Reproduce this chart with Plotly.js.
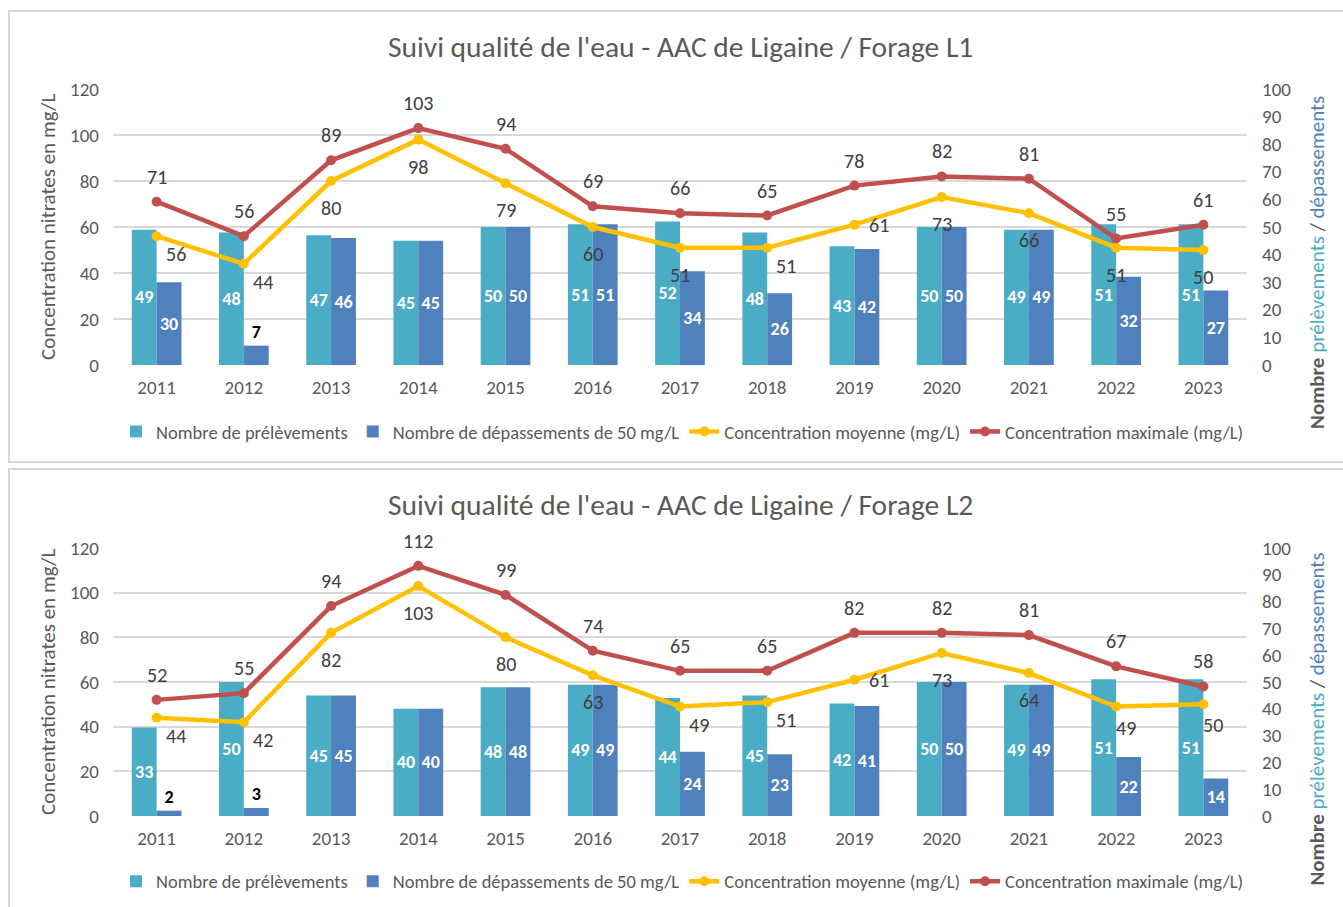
<!DOCTYPE html>
<html>
<head>
<meta charset="utf-8">
<script src="https://cdn.plot.ly/plotly-3.0.1.min.js"></script>
<style>
  html, body { margin: 0; padding: 0; background: #fff; overflow: hidden; width: 1343px; height: 907px; }
  .box { position: absolute; left: 8px; width: 1345px; border: 2px solid #d9d9d9; box-sizing: border-box; background: #fff; }
  #c1 { top: 10px; height: 453px; }
  #c2 { top: 468px; height: 450px; }
</style>
</head>
<body>
<div id="c1" class="box"></div>
<div id="c2" class="box"></div>
<script>
// ---------- DATA ----------
const years = ["2011","2012","2013","2014","2015","2016","2017","2018","2019","2020","2021","2022","2023"];

const titleL1 = "Suivi qualité de l'eau - AAC de Ligaine / Forage L1";
const prelL1 = [49, 48, 47, 45, 50, 51, 52, 48, 43, 50, 49, 51, 51];
const depL1  = [30, 7, 46, 45, 50, 51, 34, 26, 42, 50, 49, 32, 27];
const moyL1  = [56, 44, 80, 98, 79, 60, 51, 51, 61, 73, 66, 51, 50];
const maxL1  = [71, 56, 89, 103, 94, 69, 66, 65, 78, 82, 81, 55, 61];

const titleL2 = "Suivi qualité de l'eau - AAC de Ligaine / Forage L2";
const prelL2 = [33, 50, 45, 40, 48, 49, 44, 45, 42, 50, 49, 51, 51];
const depL2  = [2, 3, 45, 40, 48, 49, 24, 23, 41, 50, 49, 22, 14];
const moyL2  = [44, 42, 82, 103, 80, 63, 49, 51, 61, 73, 64, 49, 50];
const maxL2  = [52, 55, 94, 112, 99, 74, 65, 65, 82, 82, 81, 67, 58];

const seriesNames = ["Nombre de prélèvements", "Nombre de dépassements de 50 mg/L",
                     "Concentration moyenne (mg/L)", "Concentration maximale (mg/L)"];
const leftTitle = "Concentration nitrates en mg/L";
const rightTitle = '<b>Nombre</b> <span style="color:#4BACC6">prélèvements</span> / <span style="color:#4F81BD">dépassements</span>';

// ---------- LABEL PLACEMENT (style) ----------
const PLACE = { below: [0, -27], belowRight: [19, -18], belowNudge: [10, -21], right: [25, 0], above: [0, 25] };
const meanPlaceL1 = ["belowRight","belowRight","below","below","below","below","below","belowRight","right","below","below","below","below"];
const meanPlaceL2 = ["belowRight","belowRight","below","below","below","below","belowRight","belowRight","right","below","below","belowNudge","belowNudge"];

// ---------- STYLE ----------
const FONT = "Carlito, Calibri, Lato, sans-serif";
const GREY = "#595959";
const C_PREL = "#4BACC6", C_DEP = "#4F81BD", C_MOY = "#FFC000", C_MAX = "#C0504D";

function build(div, title, prel, dep, moy, max, meanPlace, opts) {
  const bar = (name, y, color) => ({
    type: "bar", name: name, x: years, y: y, xaxis: "x", yaxis: "y",
    marker: { color: color },
    text: y.map(String), textposition: "auto", insidetextanchor: "middle",
    constraintext: "none",
    insidetextfont: { family: FONT, size: 18, color: "#ffffff", weight: "bold" },
    outsidetextfont: { family: FONT, size: 18, color: "#000000", weight: "bold" },
    textangle: 0, cliponaxis: false, hoverinfo: "skip"
  });
  const line = (name, y, color) => ({
    type: "scatter", mode: "lines+markers", name: name, x: years, y: y, xaxis: "x", yaxis: "y2",
    line: { color: color, width: 4.5 }, marker: { color: color, size: 10 },
    cliponaxis: false, hoverinfo: "skip"
  });
  const data = [
    bar(seriesNames[0], prel, C_PREL),
    bar(seriesNames[1], dep, C_DEP),
    line(seriesNames[2], moy, C_MOY),
    line(seriesNames[3], max, C_MAX)
  ];
  const lab = (v, i, place) => ({
    text: String(v), xref: "x", yref: "y2", x: i, y: v,
    xshift: PLACE[place][0], yshift: PLACE[place][1],
    xanchor: "center", yanchor: "middle", showarrow: false,
    font: { family: FONT, size: 20, color: "#404040" }
  });
  const annots = [
    { text: title, xref: "paper", yref: "paper", x: 0.5, y: 1, yshift: opts.titleShift,
      xanchor: "center", yanchor: "middle", showarrow: false,
      font: { family: FONT, size: 29.5, color: GREY } },
    { text: leftTitle, xref: "paper", yref: "paper", x: 0, y: 0.5, xshift: -65,
      xanchor: "center", yanchor: "middle", textangle: -90, showarrow: false,
      font: { family: FONT, size: 21, color: GREY } },
    { text: rightTitle, xref: "paper", yref: "paper", x: 1, y: opts.rY, xshift: 70,
      xanchor: "center", yanchor: "middle", textangle: -90, showarrow: false,
      font: { family: FONT, size: 21, color: GREY } }
  ];
  moy.forEach((v, i) => annots.push(lab(v, i, meanPlace[i])));
  max.forEach((v, i) => annots.push(lab(v, i, "above")));

  const layout = {
    width: 1345, height: opts.h,
    margin: { l: 103, r: 108, t: opts.t, b: opts.b },
    paper_bgcolor: "rgba(0,0,0,0)", plot_bgcolor: "rgba(0,0,0,0)",
    font: { family: FONT, size: 18, color: GREY },
    barmode: "group", bargap: 0.43, bargroupgap: 0,
    showlegend: true,
    legend: { orientation: "h", xref: "container", x: 0.5, xanchor: "center",
              yref: "container", y: opts.legY, yanchor: "middle",
              font: { family: FONT, size: 18.5, color: GREY }, traceorder: "normal",
              itemwidth: 30, tracegroupgap: 0 },
    xaxis: { type: "category", range: [-0.5, 12.5], showgrid: false, zeroline: false, showline: false,
             ticks: "", tickfont: { family: FONT, size: 19, color: GREY }, ticklabelstandoff: 9 },
    yaxis: { range: [0, 100], dtick: 10, side: "right", showgrid: false,
             zeroline: false, showline: false, ticks: "", ticklabelstandoff: 14,
             tickfont: { family: FONT, size: 19, color: GREY } },
    yaxis2: { range: [0, 120], dtick: 20, overlaying: "y", side: "left",
              showgrid: true, gridcolor: "#d9d9d9", gridwidth: 2,
              zeroline: false, showline: false, ticks: "", ticklabelstandoff: 13,
              tickfont: { family: FONT, size: 19, color: GREY } },
    annotations: annots
  };
  Plotly.newPlot(div, data, layout, { staticPlot: true, displayModeBar: false });
}

build("c1", titleL1, prelL1, depL1, moyL1, maxL1, meanPlaceL1,
      { h: 453, t: 77, b: 100, legY: 0.073, titleShift: 42, rY: 0.37 });
build("c2", titleL2, prelL2, depL2, moyL2, maxL2, meanPlaceL2,
      { h: 450, t: 78, b: 104, legY: 0.085, titleShift: 43, rY: 0.36 });
</script>
</body>
</html>
